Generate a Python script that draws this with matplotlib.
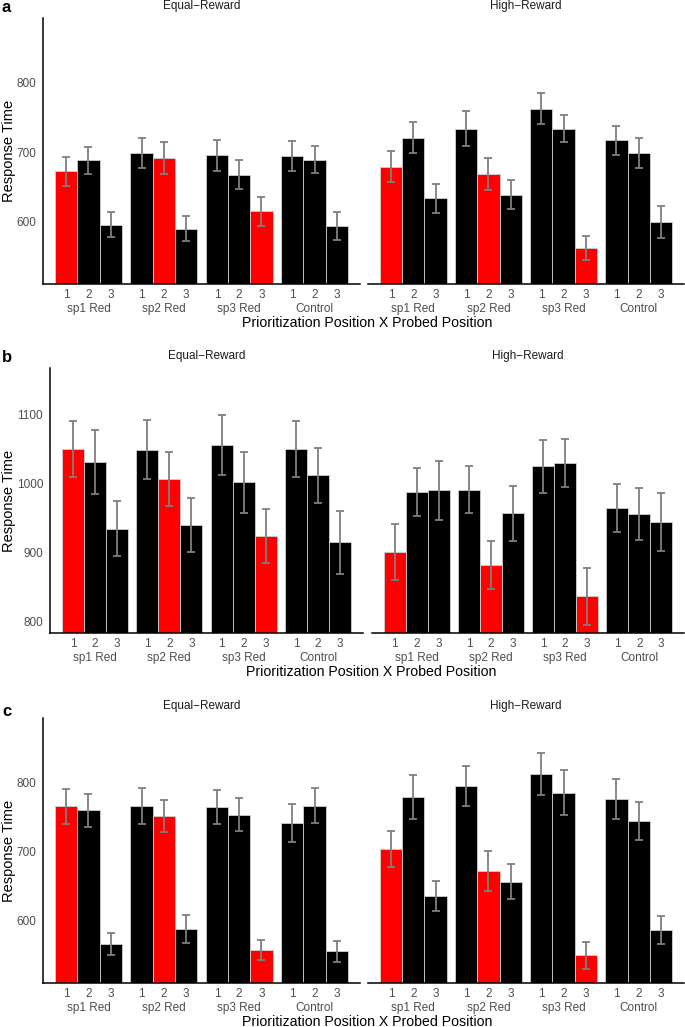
import matplotlib
matplotlib.use("Agg")
import matplotlib.pyplot as plt
import matplotlib.transforms as mtransforms
import numpy as np

plt.rcParams['font.family'] = ['Liberation Sans', 'DejaVu Sans']

groups = ["sp1 Red", "sp2 Red", "sp3 Red", "Control"]
positions = ["1", "2", "3"]
facets = ["Equal\u2212Reward", "High\u2212Reward"]

# Panel a
a_equal_mean = [672, 688, 595, 699, 691, 589, 695, 667, 614, 694, 689, 593]
a_equal_se = [21, 20, 18, 22, 23, 18, 22, 21, 21, 22, 20, 20]
a_high_mean = [679, 721, 633, 734, 668, 638, 763, 734, 561, 717, 699, 599]
a_high_se = [23, 22, 21, 25, 23, 21, 22, 20, 17, 21, 22, 23]
# Panel b
b_equal_mean = [1050, 1031, 935, 1049, 1006, 940, 1056, 1002, 924, 1050, 1012, 915]
b_equal_se = [40, 46, 40, 43, 39, 39, 43, 44, 39, 40, 40, 46]
b_high_mean = [901, 988, 990, 991, 882, 957, 1025, 1030, 837, 965, 956, 944]
b_high_se = [41, 35, 42, 34, 35, 40, 38, 35, 41, 35, 37, 42]
# Panel c
c_equal_mean = [765, 759, 565, 765, 751, 587, 764, 753, 557, 741, 766, 555]
c_equal_se = [25, 24, 16, 26, 23, 20, 25, 24, 15, 27, 25, 15]
c_high_mean = [703, 779, 635, 795, 671, 656, 812, 785, 549, 775, 744, 586]
c_high_se = [26, 32, 22, 29, 29, 25, 31, 33, 19, 29, 28, 20]

a_ylim = (509, 894)
b_ylim = (784, 1167)
c_ylim = (509, 893)
a_yticks = [600, 700, 800]
b_yticks = [800, 900, 1000, 1100]
c_yticks = [600, 700, 800]

W, H = 685, 1027
fig = plt.figure(figsize=(W / 100, H / 100), dpi=100)


def px_axes(x0, x1, y0, y1):
    return fig.add_axes([x0 / W, 1 - y1 / H, (x1 - x0) / W, (y1 - y0) / H])


GROUP_PITCH = 3.38
MARGIN = 0.54
xs = np.array([g * GROUP_PITCH + j for g in range(4) for j in range(3)])
colors = ["#FF0000" if (g < 3 and j == g) else "#000000" for g in range(4) for j in range(3)]


def draw_facet(ax, means, ses, ylim, yticks, title, show_y):
    ax.bar(xs, means, width=1.0, color=colors, edgecolor="#d0d0d0", linewidth=0.6, zorder=2)
    ax.errorbar(xs, means, yerr=ses, fmt="none", ecolor="#7f7f7f", elinewidth=1.3,
                capsize=2.6, capthick=1.3, zorder=3)
    ax.set_ylim(*ylim)
    ax.set_xlim(-0.5 - MARGIN, xs[-1] + 0.5 + MARGIN)
    for s in ["top", "right"]:
        ax.spines[s].set_visible(False)
    ax.spines["bottom"].set_linewidth(1.1)
    ax.spines["left"].set_linewidth(1.1)
    ax.set_xticks(xs)
    ax.set_xticklabels(positions * 4)
    ax.tick_params(axis="x", length=0, pad=3.5, labelsize=8.5, labelcolor="#4d4d4d")
    ax.tick_params(axis="y", length=0, pad=5, labelsize=8.5, labelcolor="#4d4d4d")
    if show_y:
        ax.set_yticks(yticks)
    else:
        ax.spines["left"].set_visible(False)
        ax.set_yticks([])
    trans = mtransforms.blended_transform_factory(ax.transData, ax.transAxes)
    for g, name in enumerate(groups):
        ax.text(g * GROUP_PITCH + 1, -0.071, name, transform=trans, ha="center", va="top",
                fontsize=8.5, color="#4d4d4d")
    ax.text(0.5, 1.022, title, transform=ax.transAxes, ha="center", va="bottom",
            fontsize=8.5, color="#1a1a1a")
    ax.set_facecolor("white")


panels = [
    ("a", (43, 360, 368, 684), (18, 284), a_equal_mean, a_equal_se, a_high_mean, a_high_se, a_ylim, a_yticks, 7),
    ("b", (50, 363, 372, 684), (368, 633), b_equal_mean, b_equal_se, b_high_mean, b_high_se, b_ylim, b_yticks, 357),
    ("c", (43, 360, 368, 684), (718, 983), c_equal_mean, c_equal_se, c_high_mean, c_high_se, c_ylim, c_yticks, 712),
]

for label, (lx0, lx1, rx0, rx1), (y0, y1), em, es, hm, hs, ylim, yt, ly in panels:
    axl = px_axes(lx0, lx1, y0, y1)
    draw_facet(axl, em, es, ylim, yt, facets[0], True)
    axr = px_axes(rx0, rx1, y0, y1)
    draw_facet(axr, hm, hs, ylim, yt, facets[1], False)
    fig.text(2 / W, 1 - ly / H, label, fontsize=12, fontweight="bold", ha="left", va="center")
    fig.text(9 / W, 1 - ((y0 + y1) / 2) / H, "Response Time", rotation=90,
             fontsize=10.5, ha="center", va="center")
    xc = (lx0 + rx1) / 2 + 4
    fig.text(xc / W, 1 - (y1 + 39) / H, "Prioritization Position X Probed Position",
             fontsize=10.2, ha="center", va="center")

fig.savefig("out.png", dpi=100, facecolor="white")
